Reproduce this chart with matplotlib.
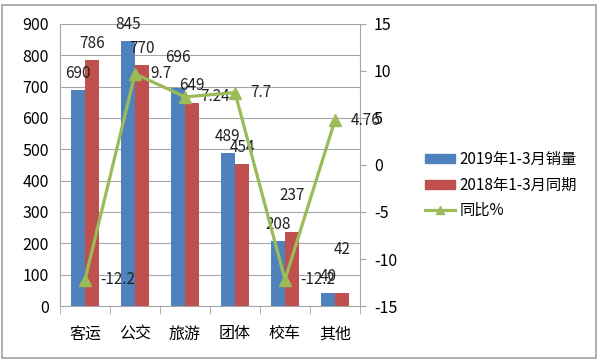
import matplotlib.pyplot as plt
import numpy as np
from matplotlib.lines import Line2D
from matplotlib.patches import Patch, Rectangle

plt.rcParams['font.family'] = ['Noto Sans CJK SC', 'DejaVu Sans']
plt.rcParams['axes.unicode_minus'] = False

categories = ['客运', '公交', '旅游', '团体', '校车', '其他']
sales_2019 = [690, 845, 696, 489, 208, 40]
sales_2018 = [786, 770, 649, 454, 237, 42]
yoy = [-12.2, 9.7, 7.24, 7.7, -12.2, 4.76]
yoy_labels = ['-12.2', '9.7', '7.24', '7.7', '-12.2', '4.76']

blue = '#4F81BD'
red = '#C0504D'
green = '#9BBB59'
grid_c = '#A6A6A6'

# extra lift (points) for labels Excel pushed up to avoid collisions
lift_2019 = [0, 0, 10, 0, 0, 0]
lift_2018 = [0, 0, 0, 0, 14, 19]

fig = plt.figure(figsize=(6, 3.63), dpi=100)
fig.patches.append(Rectangle((0.004, 0.013), 0.99, 0.974, transform=fig.transFigure,
                             fill=False, edgecolor='#A0A0A0', linewidth=1.2))

ax = fig.add_axes([0.1, 0.157, 0.5, 0.777])
x = np.arange(len(categories))
w = 0.28
b1 = ax.bar(x - w / 2, sales_2019, w, color=blue, zorder=2)
b2 = ax.bar(x + w / 2, sales_2018, w, color=red, zorder=2)

for bars, vals, lifts in ((b1, sales_2019, lift_2019), (b2, sales_2018, lift_2018)):
    for r, v, lf in zip(bars, vals, lifts):
        ax.annotate(str(v), (r.get_x() + r.get_width() / 2, v), xytext=(0, 12 + lf),
                    textcoords='offset points', ha='center', va='center', fontsize=11,
                    color='#222222', zorder=5)

ax.set_xlim(-0.5, 5.5)
ax.set_ylim(0, 900)
ax.set_yticks(range(0, 901, 100))
ax.yaxis.grid(True, color=grid_c, linewidth=0.8)
ax.set_axisbelow(True)
ax.set_xticks(x)
ax.set_xticklabels(categories, fontsize=11.5)
ax.set_xticks(np.arange(-0.5, 6, 1), minor=True)
ax.tick_params(axis='x', which='major', length=0, pad=14)
ax.tick_params(axis='x', which='minor', length=6, color=grid_c)
ax.tick_params(axis='y', length=0, labelsize=11.5, pad=8)
for s in ('top', 'right'):
    ax.spines[s].set_visible(False)
for s in ('left', 'bottom'):
    ax.spines[s].set_color(grid_c)

ax2 = ax.twinx()
ax2.plot(x, yoy, color=green, linewidth=2.3, marker='^', markersize=9, zorder=4)
for xi, v, lab in zip(x, yoy, yoy_labels):
    ax2.annotate(lab, (xi, v), xytext=(11, 0), textcoords='offset points',
                 ha='left', va='center', fontsize=11, color='#222222')
ax2.set_ylim(-15, 15)
ax2.set_yticks(range(-15, 16, 5))
ax2.tick_params(axis='y', length=4, color=grid_c, labelsize=11.5, pad=6)
for s in ('top', 'left', 'bottom'):
    ax2.spines[s].set_visible(False)
ax2.spines['right'].set_color(grid_c)

handles = [Patch(color=blue), Patch(color=red),
           Line2D([0], [0], color=green, linewidth=2.3, marker='^', markersize=6)]
labels = ['2019年1-3月销量', '2018年1-3月同期', '同比%']
fig.legend(handles, labels, loc='center left', bbox_to_anchor=(0.685, 0.49),
           frameon=False, fontsize=11, handlelength=2.0, handleheight=0.5,
           handletextpad=0.25, labelspacing=0.55)

fig.savefig('out.png', dpi=100)
